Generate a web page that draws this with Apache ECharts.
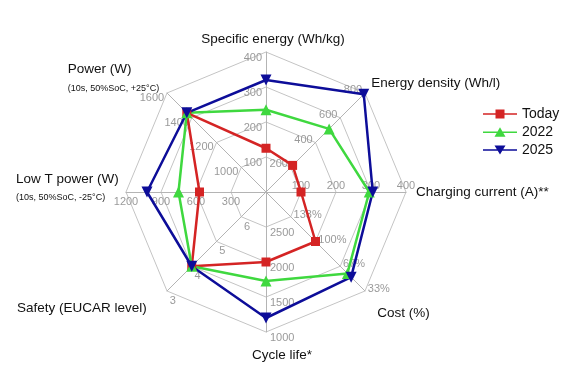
<!DOCTYPE html>
<html>
<head>
<meta charset="utf-8">
<script src="https://cdn.jsdelivr.net/npm/echarts@6/dist/echarts.min.js"></script>
<style>html,body{margin:0;padding:0;background:#fff}#c{width:572px;height:368px}</style>
</head>
<body>
<div id="c"></div>
<script>
// Axes listed counterclockwise from the top (ECharts radar order)
const indicatorNames = ['Specific energy (Wh/kg)', 'Power (W)', 'Low T power (W)', 'Safety (EUCAR level)', 'Cycle life*', 'Cost (%)', 'Charging current (A)**', 'Energy density (Wh/l)'];
const axisCenterValue = [0, 800, 0, 7, 3000, 166.67, 0, 0];
const axisOuterValue = [400, 1600, 1200, 3, 1000, 33.33, 400, 800];
const tickLabels = [
  ['100', '200', '300', '400'],
  ['1000', '1200', '1400', '1600'],
  ['300', '600', '900', '1200'],
  ['6', '5', '4', '3'],
  ['2500', '2000', '1500', '1000'],
  ['133%', '100%', '67%', '33%'],
  ['100', '200', '300', '400'],
  ['200', '400', '600', '800']
];
const seriesNames = ['Today', '2022', '2025'];
const today = [125, 1440, 570, 4, 2000, 100, 100, 215];
const y2022 = [235, 1440, 750, 4, 1730, 57, 295, 510];
const y2025 = [320, 1440, 1020, 4, 1200, 52, 305, 790];
const subtitles = { 'Power (W)': '(10s, 50%SoC, +25°C)', 'Low T power (W)': '(10s, 50%SoC, -25°C)' };

const namePadding = [[0,0,0,14],[0,5,20,0],[0,2,7,0],[26,16,0,0],[10,0,0,32],[36,0,0,8],[0,0,0,4],[0,0,10,2]];
const labelPadding = [[11,0,0,0],[4,0,0,0],[0,0,0,0],[14,0,0,0],[12,0,0,0],[2,0,0,0],[0,0,0,0],[0,0,0,0]];
const labelMargin = [4, 4, 4, 4, 4, 4, 1, 4];

const inverted = axisCenterValue.map((c, i) => c > axisOuterValue[i]);
const sign = inverted.map(f => f ? -1 : 1);

const labelRich = {};
labelPadding.forEach((p, i) => {
  labelRich['r' + i] = { padding: p, color: '#9a9a9a', fontSize: 11 };
});

const indicator = indicatorNames.map((n, i) => {
  const lo = axisCenterValue[i] * sign[i], hi = axisOuterValue[i] * sign[i];
  const step = (hi - lo) / 4;
  return {
    name: n, min: lo, max: hi,
    nameMoveOverlap: false,
    nameTextStyle: { padding: namePadding[i] },
    axisLabel: {
      margin: labelMargin[i],
      formatter: function (v) {
        const k = Math.round((v - lo) / step);
        return k <= 0 ? '' : '{r' + i + '|' + tickLabels[i][k - 1] + '}';
      }
    }
  };
});
const toLib = arr => arr.map((v, i) => v * sign[i]);

const colors = ['#d42424', '#3fd83f', '#0d0d99'];
const symbols = ['rect', 'triangle', 'path://M0,0H10L5,9Z'];
const sizes = [9, 11, 11];
const legendIcons = [
  'path://M0,4.2H34V5.8H0Z M12.5,0.5H21.5V9.5H12.5Z',
  'path://M0,4.2H34V5.8H0Z M17,0L22.5,9.5H11.5Z',
  'path://M0,4.2H34V5.8H0Z M11.5,0.5H22.5L17,9.5Z'
];
const allData = [today, y2022, y2025];

const chart = echarts.init(document.getElementById('c'), null, { renderer: 'canvas' });
chart.setOption({
  animation: false,
  textStyle: { fontFamily: 'Liberation Sans, Arial, sans-serif' },
  legend: {
    orient: 'vertical', left: 478, top: 102, itemWidth: 34, itemHeight: 10, itemGap: 4,
    textStyle: { fontSize: 14, color: '#111' },
    data: seriesNames.map((n, i) => ({ name: n, icon: legendIcons[i] }))
  },
  radar: {
    center: [266, 192], radius: 140, startAngle: 90, splitNumber: 4, shape: 'polygon',
    nameGap: 6,
    nameMoveOverlap: false,
    axisName: {
      color: '#111', fontSize: 13.5,
      formatter: function (name) {
        if (subtitles[name]) {
          const k = name === 'Power (W)' ? 'p' : 'l';
          return '{' + k + 't|' + name + '}\n{' + k + 's|' + subtitles[name] + '}';
        }
        return name;
      },
      rich: {
        pt: { fontSize: 13.5, color: '#111', width: 90, align: 'left', lineHeight: 19 },
        ps: { fontSize: 9, color: '#111', width: 90, align: 'left', lineHeight: 19 },
        lt: { fontSize: 13.5, color: '#111', width: 102, align: 'left', lineHeight: 19 },
        ls: { fontSize: 9, color: '#111', width: 102, align: 'left', lineHeight: 19 }
      }
    },
    axisLine: { lineStyle: { color: '#b4b4b4', width: 1 } },
    splitLine: { lineStyle: { color: '#c4c4c4', width: 1 } },
    splitArea: { show: false },
    axisTick: { show: false },
    axisLabel: { show: true, color: '#9a9a9a', fontSize: 11, margin: 4, rich: labelRich },
    indicator: indicator
  },
  series: [{
    type: 'radar',
    data: seriesNames.map((n, i) => ({
      name: n, value: toLib(allData[i]),
      symbol: symbols[i], symbolSize: sizes[i],
      itemStyle: { color: colors[i] },
      lineStyle: { color: colors[i], width: 2.5 }
    }))
  }]
});
</script>
</body>
</html>
